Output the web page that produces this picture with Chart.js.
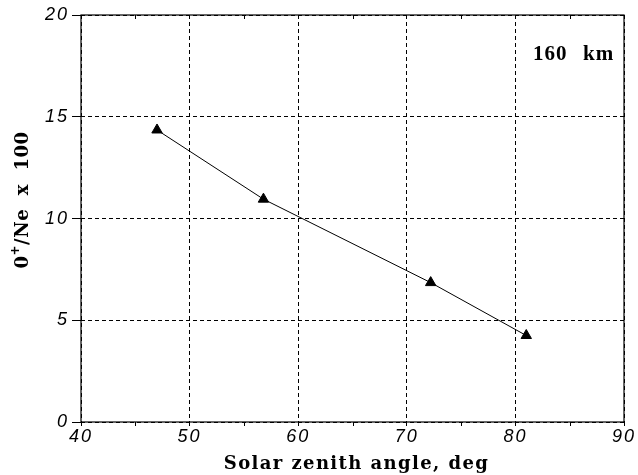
<!DOCTYPE html>
<html>
<head>
<meta charset="utf-8">
<script src="https://cdn.jsdelivr.net/npm/chart.js@4.4.1/dist/chart.umd.min.js"></script>
<style>
  html, body { margin: 0; padding: 0; background: #fff; }
  #wrap { width: 638px; height: 475px; }
</style>
</head>
<body>
<div id="wrap"><canvas id="c" width="638" height="475"></canvas></div>
<script>
// values
const zenithAngle = [47.0, 56.8, 72.2, 81.0];
const ionRatio = [14.35, 10.95, 6.85, 4.25];
const xTicks = [40, 50, 60, 70, 80, 90];
const yTicks = [0, 5, 10, 15, 20];
const xMinorTicks = [45, 55, 65, 75, 85];

const xTitle = 'Solar zenith angle, deg';
const yTitle = ['0', '+', '/Ne  x  100'];
const altLabel = ['160', 'km'];

const tickFont = { family: 'Liberation Sans', size: 18, style: 'italic' };

// wider spacing for the tick digits
const spacingPlugin = {
  id: 'spacing',
  beforeDraw(chart) { chart.ctx.letterSpacing = '2px'; },
  afterDatasetsDraw(chart) { chart.ctx.letterSpacing = '0px'; }
};

// frame, minor ticks, axis titles and altitude label
const decorPlugin = {
  id: 'decor',
  afterDraw(chart) {
    const ctx = chart.ctx;
    const a = chart.chartArea;
    const xs = chart.scales.x;
    ctx.save();
    ctx.strokeStyle = '#000';
    ctx.lineWidth = 1.2;
    ctx.setLineDash([]);
    ctx.strokeRect(a.left, a.top, a.right - a.left, a.bottom - a.top);

    ctx.lineWidth = 1;
    xMinorTicks.forEach(v => {
      const px = Math.round(xs.getPixelForValue(v)) + 0.5;
      ctx.beginPath();
      ctx.moveTo(px, a.top);
      ctx.lineTo(px, a.top + 4);
      ctx.moveTo(px, a.bottom);
      ctx.lineTo(px, a.bottom + 4);
      ctx.stroke();
    });

    ctx.fillStyle = '#000';
    // x title
    ctx.font = 'bold 18px "DejaVu Serif"';
    ctx.letterSpacing = '1.4px';
    ctx.textAlign = 'center';
    ctx.textBaseline = 'alphabetic';
    ctx.fillText(xTitle, (a.left + a.right) / 2 + 4, 469);

    // y title, rotated, with superscript
    ctx.letterSpacing = '0.5px';
    ctx.translate(28, 200);
    ctx.rotate(-Math.PI / 2);
    ctx.textAlign = 'left';
    ctx.font = 'bold 18px "DejaVu Serif"';
    const w0 = ctx.measureText(yTitle[0]).width;
    ctx.font = 'bold 12px "DejaVu Serif"';
    const w1 = ctx.measureText(yTitle[1]).width;
    ctx.font = 'bold 18px "DejaVu Serif"';
    const w2 = ctx.measureText(yTitle[2]).width;
    let x0 = -(w0 + w1 + w2) / 2;
    ctx.fillText(yTitle[0], x0, 0);
    ctx.font = 'bold 12px "DejaVu Serif"';
    ctx.fillText(yTitle[1], x0 + w0, -9);
    ctx.font = 'bold 18px "DejaVu Serif"';
    ctx.fillText(yTitle[2], x0 + w0 + w1, 0);
    ctx.setTransform(1, 0, 0, 1, 0, 0);

    // altitude label
    ctx.font = 'bold 21px "Liberation Serif"';
    ctx.letterSpacing = '1px';
    ctx.textAlign = 'left';
    ctx.fillText(altLabel[0], 533, 60);
    ctx.fillText(altLabel[1], 583, 60);
    ctx.restore();
  }
};

new Chart(document.getElementById('c'), {
  type: 'scatter',
  data: {
    datasets: [{
      data: zenithAngle.map((x, i) => ({ x: x, y: ionRatio[i] })),
      showLine: true,
      borderColor: '#000',
      borderWidth: 1,
      pointStyle: 'triangle',
      pointRadius: 6,
      pointBackgroundColor: '#000',
      pointBorderColor: '#000',
      pointBorderWidth: 1
    }]
  },
  options: {
    responsive: false,
    animation: false,
    layout: { padding: { top: 15, right: 14, left: 0, bottom: 0 } },
    plugins: { legend: { display: false }, tooltip: { enabled: false } },
    scales: {
      x: {
        type: 'linear',
        min: 40, max: 90,
        afterBuildTicks: s => { s.ticks = xTicks.map(v => ({ value: v })); },
        afterFit: s => { s.height = 53; },
        grid: {
          color: '#000', lineWidth: 1,
          drawTicks: true, tickLength: 4, tickColor: '#000', tickBorderDash: []
        },
        border: { display: false, dash: [4, 3] },
        ticks: { color: '#000', font: tickFont, padding: 0, maxRotation: 0 }
      },
      y: {
        type: 'linear',
        min: 0, max: 20,
        afterBuildTicks: s => { s.ticks = yTicks.map(v => ({ value: v })); },
        afterFit: s => { s.width = 81; },
        grid: {
          color: '#000', lineWidth: 1,
          drawTicks: true, tickLength: 9, tickColor: '#000', tickBorderDash: []
        },
        border: { display: false, dash: [4, 3] },
        ticks: { color: '#000', font: tickFont, padding: 3 }
      }
    }
  },
  plugins: [spacingPlugin, decorPlugin]
});
</script>
</body>
</html>
